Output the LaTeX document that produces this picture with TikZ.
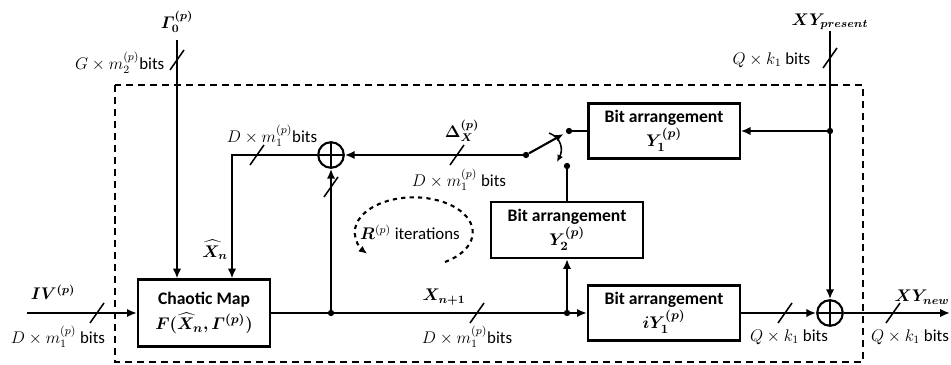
\documentclass[tikz,border=0pt]{standalone}
\usepackage{amsmath,bm}
\usepackage{fontspec}
\setmainfont{Carlito}
\usetikzlibrary{arrows.meta}

\tikzset{
  wire/.style={line width=1.5pt},
  arr/.style={wire, -{Latex[length=7pt,width=6pt]}},
  block/.style={draw, line width=1.6pt, inner sep=0pt, align=center,
    font=\fontsize{12.5}{15}\selectfont\bfseries},
  xorop/.style={circle, draw, line width=1.5pt, minimum size=0.64cm, inner sep=0pt,
    path picture={\draw[line width=1.5pt] (path picture bounding box.north) -- (path picture bounding box.south)
      (path picture bounding box.west) -- (path picture bounding box.east);}},
  dot/.style={circle, fill, inner sep=0pt, minimum size=4.5pt},
  lbl/.style={font=\fontsize{12}{14}\selectfont, inner sep=1pt},
  pics/bus/.style={code={\draw[wire, line width=1.1pt] (-7,10) -- (7,-10);}}
}

\begin{document}
\begin{tikzpicture}[x=0.025cm, y=-0.025cm]
  \useasboundingbox (0,0) rectangle (951,365);
  % Frame
  \draw[line width=1.3pt, dash pattern=on 5pt off 3.5pt] (115,85) rectangle (863,362);

  % Blocks
  \node[block, minimum width=3.3cm, minimum height=1.67cm] (chaos) at (204,313)
    {Chaotic Map\\[3pt] $\bm{F(\widehat{X}_n,\varGamma^{(p)})}$};
  \node[block, minimum width=3.78cm, minimum height=1.38cm] (bay1) at (664,131)
    {Bit arrangement\\[1pt] $\bm{Y_1^{(p)}}$};
  \node[block, minimum width=3.8cm, minimum height=1.4cm] (bay2) at (567,230)
    {Bit arrangement\\[1pt] $\bm{Y_2^{(p)}}$};
  \node[block, minimum width=3.8cm, minimum height=1.38cm] (biy1) at (664,313)
    {Bit arrangement\\[1pt] $\bm{iY_1^{(p)}}$};
  \node[xorop] (xorfb) at (331,155) {};
  \node[xorop] (xorout) at (830,313) {};

  % Junctions and switch
  \node[dot] (jx) at (331,313) {};
  \node[dot] (jy) at (567,313) {};
  \node[dot] (jp) at (830,131) {};
  \node[dot] (swl) at (526,155) {};
  \node[dot] (swu) at (569,131) {};
  \node[dot] (swd) at (567,166) {};
  \coordinate (ivin) at (27,313);
  \coordinate (gin) at (177,40);
  \coordinate (xyin) at (830,31);
  \coordinate (fbc) at (232,155);
  \coordinate (xyout) at (950,313);

  % Wires
  \draw[arr] (ivin) -- (chaos.west);
  \draw[arr] (gin) -- (gin |- chaos.north);
  \draw[arr] (xorfb.west) -- (fbc) -- (fbc |- chaos.north);
  \draw[wire] (chaos.east) -- (jx) -- (jy);
  \draw[arr] (jy) -- (biy1.west);
  \draw[arr] (jy) -- (bay2.south);
  \draw[arr] (jx) -- (xorfb.south);
  \draw[arr] (swl) -- (xorfb.east);
  \draw[wire, -{Latex[length=6pt,width=5pt]}, shorten >=2pt] (swl) -- (swu);
  \draw[wire] (swu) -- (bay1.west);
  \draw[wire] (swd) -- (bay2.north);
  \draw[-{Latex[length=5pt,width=4.5pt]}, line width=1.1pt] (549,133) .. controls (562,138) and (563,150) .. (557,162);
  \draw[wire] (xyin) -- (jp);
  \draw[arr] (jp) -- (bay1.east);
  \draw[arr] (jp) -- (xorout.north);
  \draw[arr] (biy1.east) -- (xorout.west);
  \draw[arr] (xorout.east) -- (xyout);

  % Bus widths
  \pic at (97,313) {bus};
  \pic at (177,60) {bus};
  \pic at (257,155) {bus};
  \pic at (331,187) {bus};
  \pic at (457,155) {bus};
  \pic at (477,313) {bus};
  \pic at (785,313) {bus};
  \pic at (830,58) {bus};
  \pic at (893,313) {bus};

  % Labels
  \node[lbl] (lgam) at (177,22) {$\bm{\varGamma_0^{(p)}}$};
  \node[lbl, anchor=east] (lgbits) at (166,63) {$G\times m_2^{(p)}$bits};
  \node[lbl] (lxyp) at (830,22) {$\bm{XY_{present}}$};
  \node[lbl, anchor=east] (lqbits) at (812,60) {$Q\times k_1$ bits};
  \node[lbl] (lfbbits) at (272,136) {$D\times m_1^{(p)}$bits};
  \node[lbl] (ldelta) at (462,131) {$\bm{\Delta_X^{(p)}}$};
  \node[lbl] (ldbits) at (459,180) {$D\times m_1^{(p)}$ bits};
  \node[lbl] (lxhat) at (215,250) {$\bm{\widehat{X}_n}$};
  \node[lbl] (liv) at (53,292) {$\bm{IV^{(p)}}$};
  \node[lbl] (livbits) at (58,337) {$D\times m_1^{(p)}$ bits};
  \node[lbl] (lxn) at (444,297) {$\bm{X_{n+1}}$};
  \node[lbl] (lxnbits) at (467,337) {$D\times m_1^{(p)}$bits};
  \node[lbl] (lqbits2) at (789,337) {$Q\times k_1$ bits};
  \node[lbl] (lxyn) at (922,297) {$\bm{XY_{new}}$};
  \node[lbl] (lqbits3) at (910,337) {$Q\times k_1$ bits};

  % Iterations loop
  \draw[wire, dashed, -{Latex[length=6pt,width=5pt]}] (445,262) arc[start angle=58, end angle=-218, x radius=59, y radius=35];
  \node[lbl] (liter) at (410,232) {$\bm{R}^{(p)}$ iterations};
\end{tikzpicture}
\end{document}
